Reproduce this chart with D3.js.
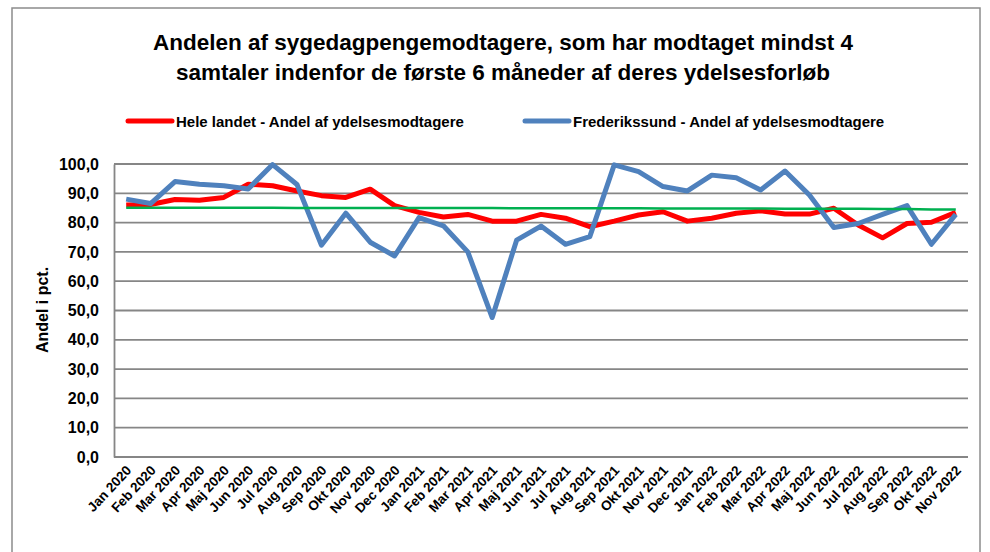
<!DOCTYPE html>
<html>
<head>
<meta charset="utf-8">
<script src="https://cdn.jsdelivr.net/npm/d3@7"></script>
<style>
  body { margin: 0; background: #fff; }
  svg { font-family: "Liberation Sans", Arial, sans-serif; }
</style>
</head>
<body>
<svg width="990" height="552"></svg>
<script>
const months = ["Jan 2020","Feb 2020","Mar 2020","Apr 2020","Maj 2020","Jun 2020","Jul 2020","Aug 2020","Sep 2020","Okt 2020","Nov 2020","Dec 2020",
  "Jan 2021","Feb 2021","Mar 2021","Apr 2021","Maj 2021","Jun 2021","Jul 2021","Aug 2021","Sep 2021","Okt 2021","Nov 2021","Dec 2021",
  "Jan 2022","Feb 2022","Mar 2022","Apr 2022","Maj 2022","Jun 2022","Jul 2022","Aug 2022","Sep 2022","Okt 2022","Nov 2022"]

const heleLandet = [86.0,86.2,87.9,87.6,88.6,93.1,92.6,90.8,89.2,88.6,91.4,85.8,
  83.5,81.9,82.8,80.5,80.5,82.8,81.5,78.6,80.5,82.6,83.7,80.5,
  81.5,83.2,84.0,82.9,82.9,84.9,79.2,74.8,79.7,80.1,83.5]

const frederikssund = [88.0,86.5,94.0,93.1,92.6,91.5,99.8,93.0,72.3,83.2,73.3,68.6,
  81.7,78.9,70.0,47.6,74.0,78.8,72.6,75.2,99.7,97.4,92.3,90.8,
  96.2,95.3,91.1,97.6,89.4,78.3,79.7,82.8,85.8,72.6,82.8]

const maal = [85.1,85.1,85.1,85.1,85.1,85.1,85.1,85.0,85.0,85.0,85.0,85.0,
  85.0,85.0,85.0,85.0,84.9,84.9,84.9,84.9,84.9,84.9,84.8,84.8,
  84.8,84.8,84.8,84.7,84.7,84.7,84.7,84.6,84.6,84.5,84.5]

const yTicks = [0,10,20,30,40,50,60,70,80,90,100]

const svg = d3.select("svg")

// outer chart frame
svg.append("rect")
  .attr("x", 12).attr("y", 8)
  .attr("width", 968).attr("height", 560)
  .attr("fill", "none")
  .attr("stroke", "#8c8c8c")
  .attr("stroke-width", 1.5)

const plotLeft = 114, plotRight = 968, plotTop = 164, plotBottom = 457

const x = d3.scaleBand().domain(months).range([plotLeft, plotRight])
const cx = d => x(d) + x.bandwidth() / 2
const y = d3.scaleLinear().domain([0, 100]).range([plotBottom, plotTop])

// title
const title = svg.append("text")
  .attr("text-anchor", "middle")
  .attr("font-weight", "bold")
  .attr("font-size", 22.5)
  .attr("fill", "#000")
title.append("tspan").attr("x", 503).attr("y", 50)
  .text("Andelen af sygedagpengemodtagere, som har modtaget mindst 4")
title.append("tspan").attr("x", 503).attr("y", 80)
  .text("samtaler indenfor de første 6 måneder af deres ydelsesforløb")

// legend
const legend = [
  {label: "Hele landet - Andel af ydelsesmodtagere", color: "#ff0000", x: 128},
  {label: "Frederikssund - Andel af ydelsesmodtagere", color: "#4f81bd", x: 525}
]
legend.forEach(l => {
  svg.append("line")
    .attr("x1", l.x).attr("x2", l.x + 44)
    .attr("y1", 121).attr("y2", 121)
    .attr("stroke", l.color).attr("stroke-width", 5)
    .attr("stroke-linecap", "round")
  svg.append("text")
    .attr("x", l.x + 48).attr("y", 126.5)
    .attr("font-size", 15).attr("font-weight", "bold")
    .text(l.label)
})

// gridlines
svg.append("g")
  .selectAll("line")
  .data(yTicks).enter()
  .append("line")
  .attr("x1", plotLeft).attr("x2", plotRight)
  .attr("y1", d => y(d)).attr("y2", d => y(d))
  .attr("stroke", "#868686")
  .attr("stroke-width", 1.8)

// y axis
const yAxis = svg.append("g")
  .attr("transform", "translate(" + plotLeft + ",0)")
  .call(d3.axisLeft(y).tickValues(yTicks).tickSize(0).tickPadding(15)
    .tickFormat(d => d3.format(".1f")(d).replace(".", ",")))
yAxis.select(".domain").attr("stroke", "#868686").attr("stroke-width", 1.8)
yAxis.selectAll("text")
  .attr("font-size", 16).attr("font-weight", "bold")
  .attr("font-family", "Liberation Sans, Arial, sans-serif")
  .attr("fill", "#000")

svg.append("text")
  .attr("transform", "translate(48,310) rotate(-90)")
  .attr("text-anchor", "middle")
  .attr("font-size", 16).attr("font-weight", "bold")
  .text("Andel i pct.")

// x axis labels
const xAxis = svg.append("g")
  .attr("transform", "translate(0," + plotBottom + ")")
  .call(d3.axisBottom(x).tickSize(0).tickPadding(0))
xAxis.select(".domain").remove()
xAxis.selectAll("text")
  .attr("font-size", 13.5).attr("font-weight", "bold")
  .attr("font-family", "Liberation Sans, Arial, sans-serif")
  .attr("fill", "#000")
  .attr("text-anchor", "end")
  .attr("dy", 0)
  .attr("transform", "translate(6,14) rotate(-47)")

// series lines
const line = d3.line()
  .x((d, i) => cx(months[i]))
  .y(d => y(d))

svg.append("path")
  .datum(heleLandet)
  .attr("d", line)
  .attr("fill", "none")
  .attr("stroke", "#ff0000")
  .attr("stroke-width", 5)
  .attr("stroke-linejoin", "round")

svg.append("path")
  .datum(frederikssund)
  .attr("d", line)
  .attr("fill", "none")
  .attr("stroke", "#4f81bd")
  .attr("stroke-width", 5)
  .attr("stroke-linejoin", "round")

svg.append("path")
  .datum(maal)
  .attr("d", line)
  .attr("fill", "none")
  .attr("stroke", "#00b050")
  .attr("stroke-width", 2.5)
</script>
</body>
</html>
